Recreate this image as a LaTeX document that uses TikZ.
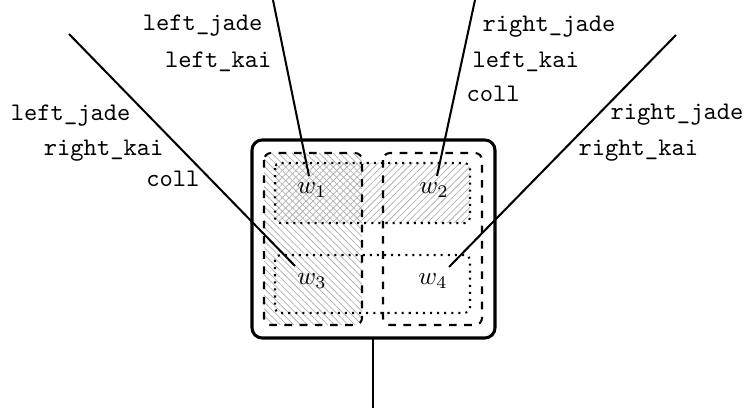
\documentclass[tikz,border=0pt]{standalone}
\usetikzlibrary{patterns.meta}
\begin{document}
\begin{tikzpicture}[x=0.395pt, y=-0.395pt,
  lbl/.style={font=\ttfamily, inner sep=0pt},
  team/.style={thick, dashed, rounded corners=2.8pt},
  world/.style={thick, dotted, rounded corners=2pt},
  hatchl/.style={pattern={Lines[angle=-45, distance=1.9pt, line width=0.3pt]}, pattern color=gray!60},
  hatchr/.style={pattern={Lines[angle=45, distance=1.9pt, line width=0.3pt]}, pattern color=gray!60}]
	\useasboundingbox (0,0) rectangle (748,412);
	% hatched areas
	\fill[hatchl, rounded corners=2.8pt] (264,153) rectangle (362,325);
	\fill[hatchr, rounded corners=2pt] (275,163) rectangle (470,223);
	% boxes
	\draw[very thick, rounded corners=4pt] (252,140) rectangle (495,338);
	\draw[team] (264,153) rectangle (362,325);
	\draw[team] (383,153) rectangle (482,325);
	\draw[world] (275,163) rectangle (470,223);
	\draw[world] (275,255) rectangle (470,313);
	\node (w1) at (312,190) {$w_1$};
	\node (w2) at (434,190) {$w_2$};
	\node (w3) at (312,281) {$w_3$};
	\node (w4) at (433,281) {$w_4$};
	% lines
	\coordinate (a1) at (273,0);
	\coordinate (a2) at (475,0);
	\coordinate (a3) at (69,34);
	\coordinate (a4) at (676,35);
	\coordinate (b1) at (309,176);
	\coordinate (b2) at (437,176);
	\coordinate (b3) at (295,266);
	\coordinate (b4) at (449,267);
	\coordinate (r) at (373,338);
	\coordinate (s) at (373,408);
	\draw[thick] (a1) -- (b1);
	\draw[thick] (a2) -- (b2);
	\draw[thick] (a3) -- (b3);
	\draw[thick] (a4) -- (b4);
	\draw[thick] (r) -- (s);
	% labels
	\node[lbl, anchor=base east] (l1) at (263,31) {left\_jade};
	\node[lbl, anchor=base east] (l2) at (272,68) {left\_kai};
	\node[lbl, anchor=base east] (l3) at (131,121) {left\_jade};
	\node[lbl, anchor=base east] (l4) at (164,156) {right\_kai};
	\node[lbl, anchor=base east] (l5) at (200,187) {coll};
	\node[lbl, anchor=base west] (r1) at (482,32) {right\_jade};
	\node[lbl, anchor=base west] (r2) at (472,68) {left\_kai};
	\node[lbl, anchor=base west] (r3) at (466,102) {coll};
	\node[lbl, anchor=base west] (r4) at (610,120) {right\_jade};
	\node[lbl, anchor=base west] (r5) at (578,156) {right\_kai};
\end{tikzpicture}
\end{document}
